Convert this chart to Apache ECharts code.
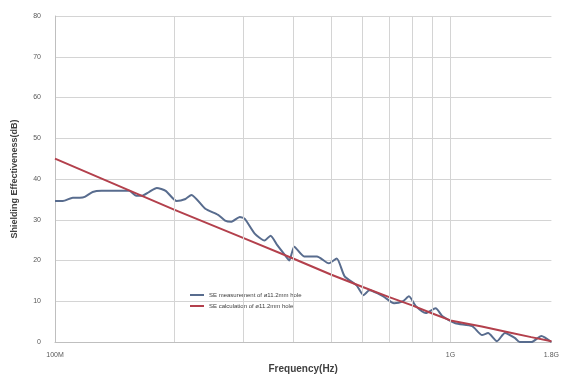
<!DOCTYPE html>
<html>
<head>
<meta charset="utf-8">
<script src="https://cdn.jsdelivr.net/npm/echarts@6/dist/echarts.min.js"></script>
<style>
html,body{margin:0;padding:0;background:#fff;}
#main{width:562px;height:379px;}
</style>
</head>
<body>
<div id="main"></div>
<script>
// 频率单位 MHz
var measFreq = [100, 104.7, 110.9, 115.5, 118.9, 124.5, 131.1, 154, 160.3, 166,
  172.8, 180.9, 190.5, 203, 213.8, 221.3, 239.9, 258.5, 269.2, 278.6,
  293.4, 302, 319.9, 338.8, 350.8, 365.2, 382.4, 391.3, 402.7, 426.6,
  459.7, 492.6, 515.8, 540.1, 578.8, 602.6, 623.7, 676.1, 720.1, 758.6,
  785.2, 817.5, 866, 917.3, 955, 1029, 1135, 1202, 1245, 1311,
  1373, 1454, 1496, 1603, 1698, 1799];
var measSE = [34.6, 34.6, 35.4, 35.4, 35.6, 36.8, 37.1, 37.1, 35.9, 35.9,
  36.8, 37.8, 37.1, 34.6, 35.1, 36.1, 32.7, 31.2, 29.8, 29.5,
  30.7, 30.2, 26.6, 24.9, 26.1, 23.7, 21.2, 20, 23.4, 21,
  21, 19.3, 20.5, 16.1, 13.9, 11.5, 12.7, 11.2, 9.5, 10,
  11.2, 8.8, 7.1, 8.3, 6.3, 4.6, 3.9, 1.7, 2.2, 0.2,
  2.2, 1, 0, 0, 1.5, 0];
var calcFreq = [100, 200, 300, 400, 500, 600, 700, 800, 900, 1000, 1200, 1400, 1600, 1800];
var calcSE = [45, 32.5, 25.5, 20.5, 16.5, 13.5, 11, 9, 7, 5.3, 3.8, 2.4, 1.2, 0.2];
// x轴刻度和竖网格线
var xTickFreq = [100, 1000, 1800];
var xTickText = ['100M', '1G', '1.8G'];
var gridFreq = [200, 300, 400, 500, 600, 700, 800, 900, 1000];

function pairs(xs, ys) {
  return xs.map(function (x, i) { return [x, ys[i]]; });
}

var chart = echarts.init(document.getElementById('main'));
var option = {
  animation: false,
  grid: { left: 55, right: 4, top: 16, bottom: 35 },
  legend: {
    orient: 'vertical',
    left: 185,
    top: 287,
    itemWidth: 14,
    itemHeight: 2,
    itemGap: 5,
    icon: 'rect',
    textStyle: { fontSize: 6, color: '#404040', fontFamily: 'Liberation Sans' },
    data: ['SE measurement of ø11.2mm hole', 'SE calculation of ø11.2mm hole']
  },
  xAxis: {
    type: 'log',
    logBase: 10,
    min: 100,
    max: 1800,
    name: 'Frequency(Hz)',
    nameLocation: 'middle',
    nameGap: 22,
    nameTextStyle: { fontSize: 10, fontWeight: 'bold', color: '#404040', fontFamily: 'Liberation Sans' },
    axisLine: { lineStyle: { color: '#BFBFBF' } },
    axisTick: { show: false },
    splitLine: { show: false },
    axisLabel: {
      customValues: xTickFreq,
      fontSize: 7,
      color: '#595959',
      margin: 10,
      formatter: function (v) {
        var i = xTickFreq.indexOf(Math.round(v));
        return i >= 0 ? xTickText[i] : '';
      }
    }
  },
  yAxis: {
    type: 'value',
    min: 0,
    max: 80,
    interval: 10,
    name: 'Shielding Effectiveness(dB)',
    nameLocation: 'middle',
    nameGap: 36,
    nameTextStyle: { fontSize: 9, fontWeight: 'bold', color: '#404040', fontFamily: 'Liberation Sans' },
    axisLine: { show: true, lineStyle: { color: '#BFBFBF' } },
    axisTick: { show: false },
    axisLabel: { fontSize: 7, color: '#595959', margin: 14 },
    splitLine: { lineStyle: { color: '#D4D4D4', width: 1 } }
  },
  series: [
    {
      name: 'SE measurement of ø11.2mm hole',
      type: 'line',
      data: pairs(measFreq, measSE),
      showSymbol: false,
      smooth: 0.2,
      lineStyle: { color: '#586C8E', width: 2 },
      itemStyle: { color: '#586C8E' },
      z: 3,
      markLine: {
        silent: true,
        symbol: 'none',
        label: { show: false },
        lineStyle: { color: '#D4D4D4', width: 1, type: 'solid' },
        data: gridFreq.map(function (f) { return { xAxis: f }; })
      }
    },
    {
      name: 'SE calculation of ø11.2mm hole',
      type: 'line',
      data: pairs(calcFreq, calcSE),
      showSymbol: false,
      lineStyle: { color: '#B3404C', width: 2 },
      itemStyle: { color: '#B3404C' },
      z: 4
    }
  ]
};
chart.setOption(option);
</script>
</body>
</html>
